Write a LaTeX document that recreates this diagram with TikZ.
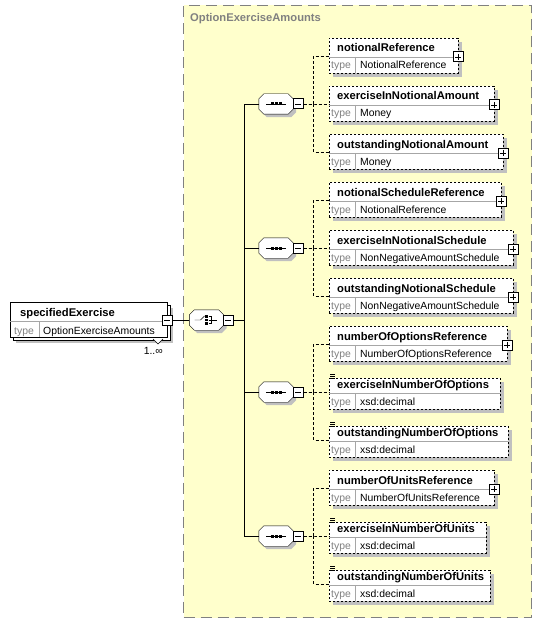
\documentclass[tikz,border=0pt]{standalone}
\usepackage{fontspec}
\setmainfont{Liberation Sans}
\usetikzlibrary{positioning,calc,shadows}

\definecolor{typeyellow}{HTML}{FFFFCC}
\definecolor{shadowgray}{HTML}{C0C0C0}
\definecolor{labelgray}{HTML}{808080}

\begin{document}
\begin{tikzpicture}[x=1pt, y=-1pt,
    typebox/.style={draw=labelgray, fill=typeyellow, dash pattern=on 11pt off 6pt, line width=1pt, anchor=north west, inner sep=0pt},
    typename/.style={anchor=base west, inner sep=0pt, text=labelgray, font=\bfseries\fontsize{11.2}{13}\selectfont},
    elbox/.style={draw, dash pattern=on 2pt off 2pt, fill=white, inner sep=0pt, anchor=south west, drop shadow={shadow xshift=4pt, shadow yshift=-4pt, fill=shadowgray, opacity=1}},
    sebox/.style={draw, fill=white, inner sep=0pt, anchor=north west, minimum width=157, minimum height=35},
    elname/.style={anchor=base west, inner sep=0pt, font=\bfseries\fontsize{11.2}{13}\selectfont},
    typelabel/.style={anchor=base west, inner sep=0pt, text=labelgray, font=\fontsize{10.4}{12}\selectfont},
    typevalue/.style={anchor=base west, inner sep=0pt, font=\fontsize{10.4}{12}\selectfont},
    divline/.style={draw=black!35},
    conn/.style={dash pattern=on 3pt off 2pt},
    compositor/.style={minimum width=34, minimum height=20, inner sep=0pt},
    octagon/.style={draw, fill=white, drop shadow={shadow xshift=3pt, shadow yshift=-3pt, fill=shadowgray, opacity=1}},
    plusbox/.style={draw, line width=1pt, fill=white, minimum size=10, inner sep=0pt,
      path picture={\draw[line width=0.8pt] ([xshift=2pt]path picture bounding box.west) -- ([xshift=-2pt]path picture bounding box.east);
                    \draw[line width=0.8pt] ([yshift=-2pt]path picture bounding box.north) -- ([yshift=2pt]path picture bounding box.south);}},
    minusbox/.style={draw, line width=1pt, fill=white, minimum size=10, inner sep=0pt,
      path picture={\draw[line width=0.8pt] ([xshift=2pt]path picture bounding box.west) -- ([xshift=-2pt]path picture bounding box.east);}}]

    \useasboundingbox (0,0) rectangle (541,623);

    % Complex type
    \node[typebox, minimum width=348, minimum height=612] (optionExerciseAmounts) at (183,5) {};
    \node[typename] at (190,22) {OptionExerciseAmounts};

    % Root element
    \node[sebox, drop shadow={shadow xshift=3pt, shadow yshift=-3pt, fill=shadowgray, opacity=1}] (seBack) at (13,305) {};
    \node[sebox] (se) at (10,302) {};
    \draw[divline] (10,321) -- (167,321);
    \draw[divline] (39,321) -- (39,337);
    \node[elname] at (20,316) {specifiedExercise};
    \node[typelabel] at (14,334) {type};
    \node[typevalue] at (43,334) {OptionExerciseAmounts};
    \draw[fill=white] (153,339) -- (158,344) -- (163,339);
    \node[typevalue, anchor=base east] at (163,354) {1..∞};
    \node[minusbox] (se-minus) at (167,320) {};

    % Choice
    \node[compositor] (choice) at (206.5,320) {};
    \draw[octagon] ($(choice.north west)+(5,0)$) -- ($(choice.north east)+(-5,0)$) -- ($(choice.north east)+(0,5)$)
      -- ($(choice.south east)+(0,-5)$) -- ($(choice.south east)+(-5,0)$) -- ($(choice.south west)+(5,0)$)
      -- ($(choice.south west)+(0,-5)$) -- ($(choice.north west)+(0,5)$) -- cycle;
    \node[minusbox] (choice-minus) at (228,320) {};
    \draw (se-minus) -- (choice);
    \draw ($(choice.center)+(-12,0)$) -- ++(6,0) -- ++(4,-4);
    \foreach \dy in {-3.5,0,3.5}
      \fill ($(choice.center)+(0,\dy)$) ++(-1.2,-1.2) rectangle ++(2.4,2.4);
    \draw ($(choice.center)+(2,-3.5)$) -| ($(choice.center)+(5,3.5)$) -- ++(-3,0);
    \draw ($(choice.center)+(2,0)$) -- ++(8,0);

    % Sequences
    \foreach \grp/\c in {1/104, 2/248, 3/392, 4/536} {
      \node[compositor] (seq\grp) at (276,\c) {};
      \draw[octagon] ($(seq\grp.north west)+(5,0)$) -- ($(seq\grp.north east)+(-5,0)$) -- ($(seq\grp.north east)+(0,5)$)
        -- ($(seq\grp.south east)+(0,-5)$) -- ($(seq\grp.south east)+(-5,0)$) -- ($(seq\grp.south west)+(5,0)$)
        -- ($(seq\grp.south west)+(0,-5)$) -- ($(seq\grp.north west)+(0,5)$) -- cycle;
      \node[minusbox] (seq\grp-minus) at (298,\c) {};
      \draw (seq\grp.center) ++(-10,0) -- ++(20,0);
      \foreach \dx in {-4,0,4}
        \fill ([xshift=\dx pt]seq\grp.center) ++(-1.5,-1.5) rectangle ++(3,3);
      \draw (choice-minus.east) -- ++(11,0) |- (seq\grp.west);
    }

    % Elements
    \foreach \nm/\ty/\row/\wid/\pl/\grp in {
        notionalReference/NotionalReference/38/129/1/1,
        exerciseInNotionalAmount/Money/86/165/1/1,
        outstandingNotionalAmount/Money/134/174/1/1,
        notionalScheduleReference/NotionalReference/182/172/1/2,
        exerciseInNotionalSchedule/NonNegativeAmountSchedule/230/184/1/2,
        outstandingNotionalSchedule/NonNegativeAmountSchedule/278/184/1/2,
        numberOfOptionsReference/NumberOfOptionsReference/326/178/1/3,
        exerciseInNumberOfOptions/xsd:decimal/374/171/0/3,
        outstandingNumberOfOptions/xsd:decimal/422/179/0/3,
        numberOfUnitsReference/NumberOfUnitsReference/470/165/1/4,
        exerciseInNumberOfUnits/xsd:decimal/518/157/0/4,
        outstandingNumberOfUnits/xsd:decimal/566/161/0/4} {
      \node[elbox, minimum width=\wid, minimum height={31+4*\pl}] (\nm) at (329,\row+35) {};
      \draw[divline] ($(\nm.south west)+(0,-16)$) -- ($(\nm.south east)+(0,-16)$);
      \draw[divline] ($(\nm.south west)+(26,-16)$) -- ($(\nm.south west)+(26,0)$);
      \node[elname] at ($(\nm.south west)+(8,-21)$) {\nm};
      \node[typelabel] at ($(\nm.south west)+(2,-4)$) {type};
      \node[typevalue] at ($(\nm.south west)+(31,-4)$) {\ty};
      \draw[conn] (seq\grp-minus.east) -- ++(10,0) |- ($(\nm.south west)+(0,-17)$);
      \ifnum\pl=1
        \node[plusbox] at ($(\nm.south east)+(0,-16)$) {};
      \else
        \foreach \dy in {-3,-1,1}
          \draw[line width=0.6pt] ($(\nm.north west)+(1,\dy)$) -- ++(5,0);
      \fi
    }
\end{tikzpicture}
\end{document}
